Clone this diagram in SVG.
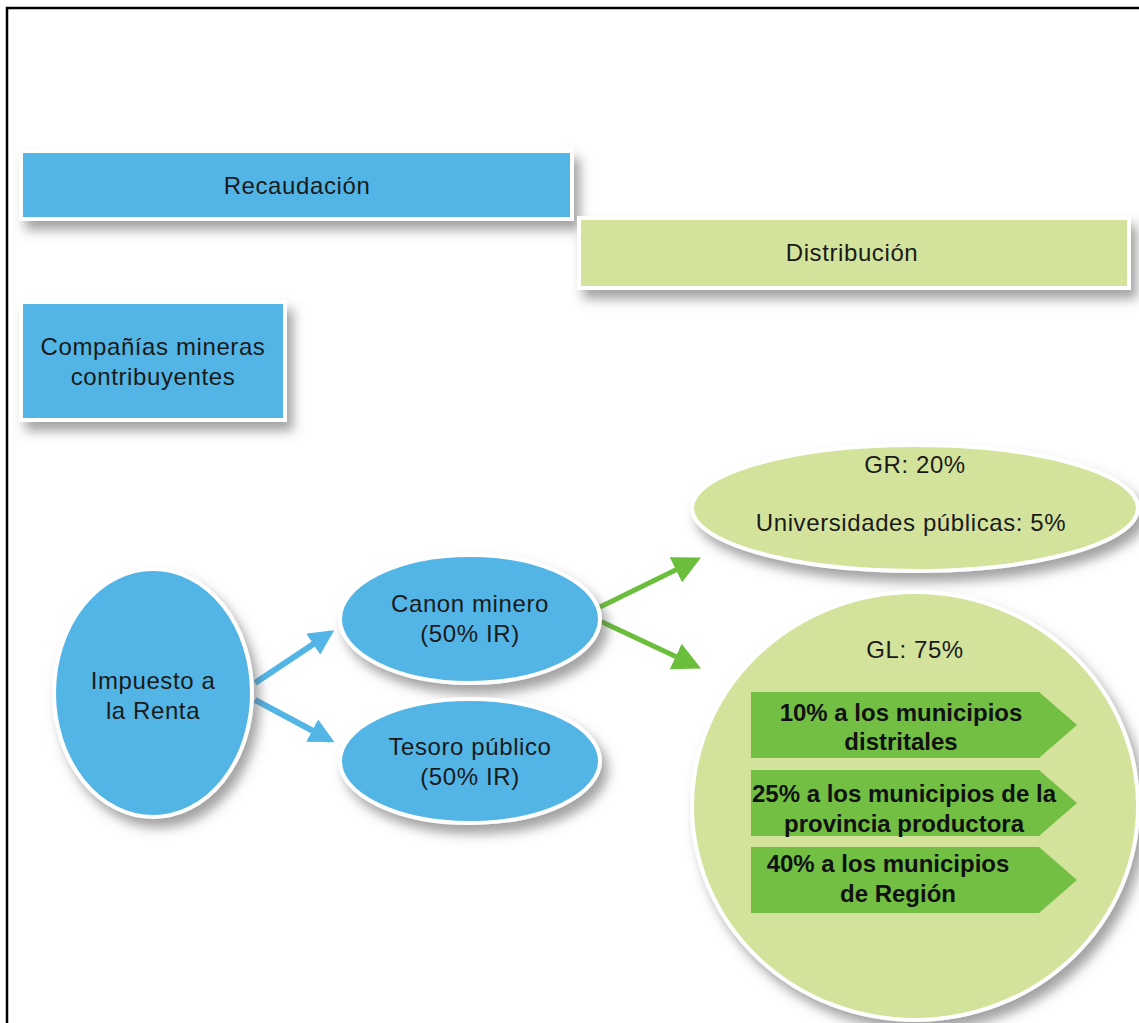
<svg xmlns="http://www.w3.org/2000/svg" width="1139" height="1023" viewBox="0 0 1139 1023">
<defs>
<style>
.t{font-family:"Liberation Sans",Arial,sans-serif;font-size:24px;letter-spacing:0.6px;fill:#1a1a1a;text-anchor:middle}
.b{font-family:"Liberation Sans",Arial,sans-serif;font-size:24px;font-weight:bold;fill:#111;text-anchor:middle}
.blue{fill:#52b5e6;stroke:#fff;stroke-width:4}
.lg{fill:#d3e39c;stroke:#fff;stroke-width:4}
.dg{fill:#72bf44}
.ab{stroke:#52b5e6;stroke-width:6;fill:none}
.ag{stroke:#6bbd3c;stroke-width:5;fill:none}
</style>
<filter id="sh" x="-20%" y="-20%" width="150%" height="160%">
<feDropShadow dx="6" dy="9" stdDeviation="6" flood-color="#555" flood-opacity="0.55"/>
</filter>
<marker id="mb" viewBox="0 0 10 10" refX="8" refY="5" markerWidth="4.2" markerHeight="4.2" orient="auto" markerUnits="strokeWidth">
<path d="M0,0 L10,5 L0,10 z" fill="#52b5e6"/>
</marker>
<marker id="mg" viewBox="0 0 10 10" refX="8" refY="5" markerWidth="5.6" markerHeight="5.6" orient="auto" markerUnits="strokeWidth">
<path d="M0,0 L10,5 L0,10 z" fill="#6bbd3c"/>
</marker>
</defs>
<rect width="1139" height="1023" fill="#fff"/>
<path d="M7,1023 V8 H1139" fill="none" stroke="#000" stroke-width="2.5"/>

<g id="recaudacion">
<rect class="blue" x="21" y="151" width="551" height="68" filter="url(#sh)"/>
<text class="t" x="297" y="194">Recaudación</text>
</g>
<g id="distribucion">
<rect class="lg" x="579" y="218" width="550" height="70" filter="url(#sh)"/>
<text class="t" x="852" y="261">Distribución</text>
</g>
<g id="companias">
<rect class="blue" x="21" y="302" width="264" height="118" filter="url(#sh)"/>
<text class="t" x="153" y="355">Compañías mineras</text>
<text class="t" x="153" y="385">contribuyentes</text>
</g>

<g id="connectors">
<line class="ab" x1="255" y1="683" x2="330" y2="633" marker-end="url(#mb)"/>
<line class="ab" x1="255" y1="700" x2="330" y2="740" marker-end="url(#mb)"/>
<line class="ag" x1="600" y1="607" x2="696" y2="560" marker-end="url(#mg)"/>
<line class="ag" x1="600" y1="621" x2="696" y2="666" marker-end="url(#mg)"/>
</g>

<g id="impuesto">
<ellipse class="blue" cx="153" cy="693" rx="99" ry="124" filter="url(#sh)"/>
<text class="t" x="153" y="689">Impuesto a</text>
<text class="t" x="153" y="719">la Renta</text>
</g>
<g id="canon">
<ellipse class="blue" cx="470" cy="619" rx="130" ry="64" filter="url(#sh)"/>
<text class="t" x="470" y="612">Canon minero</text>
<text class="t" x="470" y="642">(50% IR)</text>
</g>
<g id="tesoro">
<ellipse class="blue" cx="470" cy="761" rx="130" ry="62" filter="url(#sh)"/>
<text class="t" x="470" y="755">Tesoro público</text>
<text class="t" x="470" y="785">(50% IR)</text>
</g>
<g id="gr">
<ellipse class="lg" cx="915" cy="508" rx="223" ry="63" filter="url(#sh)"/>
<text class="t" x="915" y="473">GR: 20%</text>
<text class="t" x="911" y="531">Universidades públicas: 5%</text>
</g>
<g id="gl">
<ellipse class="lg" cx="915" cy="806" rx="223" ry="214" filter="url(#sh)"/>
<text class="t" x="915" y="658">GL: 75%</text>
</g>
<g id="p10">
<path class="dg" d="M751,692 H1039 L1077,725 L1039,758 H751 z"/>
<text class="b" x="901" y="721">10% a los municipios</text>
<text class="b" x="901" y="750">distritales</text>
</g>
<g id="p25">
<path class="dg" d="M751,770 H1039 L1077,803 L1039,836 H751 z"/>
<text class="b" x="904" y="802">25% a los municipios de la</text>
<text class="b" x="904" y="832">provincia productora</text>
</g>
<g id="p40">
<path class="dg" d="M751,847 H1039 L1077,880 L1039,913 H751 z"/>
<text class="b" x="888" y="872">40% a los municipios</text>
<text class="b" x="898" y="902">de Región</text>
</g>
</svg>
